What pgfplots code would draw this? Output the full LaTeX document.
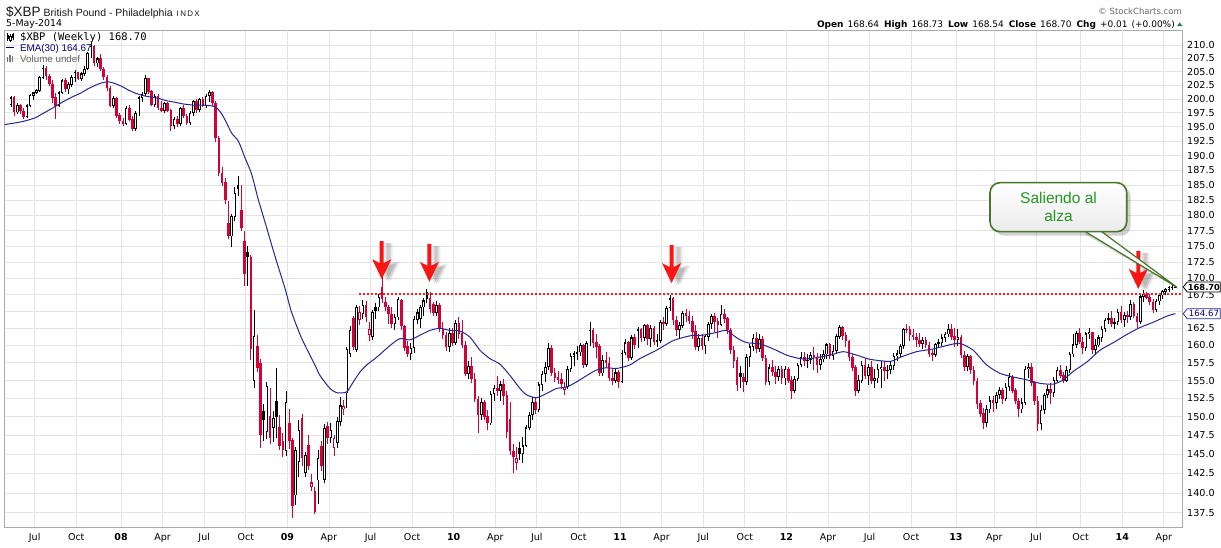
\documentclass[border=0pt]{standalone}
\usepackage{fontspec}
\setmainfont{Liberation Sans}
\newfontfamily\dv{DejaVu Sans}
\newfontfamily\dvm{DejaVu Sans Mono}
\usepackage{pgfplots}
\pgfplotsset{compat=1.18}
\usepackage{pgfplotstable}
\definecolor{cred}{RGB}{214,0,55}
\definecolor{dotred}{RGB}{255,30,30}
\definecolor{arrred}{RGB}{250,20,20}
\definecolor{ema}{RGB}{38,38,156}
\definecolor{gridc}{RGB}{228,228,228}
\definecolor{gridy}{RGB}{185,185,185}
\definecolor{framec}{RGB}{170,170,170}
\definecolor{cgreen}{RGB}{34,150,34}
\definecolor{cborder}{RGB}{74,118,40}
\definecolor{navy}{RGB}{0,0,128}
\definecolor{triup}{RGB}{30,130,60}
\definecolor{boxblue}{RGB}{40,40,170}

% k = week index (0 = week of 14-May-2007, 364 = week of 5-May-2014)
% f: 0 black hollow, 1 black filled, 2 red filled, 3 red hollow
\pgfplotstableread{
k o h l c f
0 199.0 200.6 198.6 200.2 0
1 200.2 200.5 197.0 197.6 2
2 197.6 199.3 197.2 198.9 0
3 198.9 199.1 197.3 197.8 2
4 197.8 198.3 196.4 196.8 2
5 196.8 199.1 196.5 198.8 0
6 198.8 200.9 198.5 200.6 0
7 200.6 201.3 199.9 201.1 0
8 201.1 201.8 200.8 201.5 0
9 201.5 204.1 201.2 203.9 0
10 203.9 206.2 203.6 205.7 0
11 205.7 206.0 203.5 204.1 2
12 204.1 204.6 202.4 202.7 2
13 202.7 203.5 199.2 200.2 2
14 200.2 201.0 196.4 198.8 2
15 198.8 201.4 198.5 201.1 0
16 201.1 203.6 200.8 203.3 0
17 203.3 203.8 201.3 201.7 2
18 201.7 203.0 200.8 202.6 0
19 202.6 204.3 202.2 203.9 0
20 203.9 205.2 203.1 204.8 0
21 204.8 205.0 203.4 203.7 2
22 203.7 205.0 203.3 204.6 0
23 204.6 206.0 204.1 205.5 0
24 205.5 208.7 205.2 208.4 0
25 208.4 210.6 207.6 209.8 0
26 209.8 210.0 206.0 206.5 2
27 206.5 207.7 205.8 207.4 0
28 207.4 208.2 205.1 205.4 2
29 205.4 205.9 203.5 204.0 2
30 204.0 204.4 201.5 201.9 2
31 201.9 202.3 198.5 198.8 2
32 198.8 200.5 198.3 200.1 0
33 200.1 200.4 196.6 197.0 2
34 197.0 197.5 195.6 196.0 2
35 196.0 196.5 195.2 195.6 2
36 195.6 198.8 195.3 198.4 0
37 198.4 199.0 196.0 196.3 2
38 196.3 197.0 194.2 194.6 2
39 194.6 197.8 194.3 197.4 0
40 197.4 200.6 197.0 200.2 0
41 200.2 201.3 199.4 200.9 0
42 200.9 204.3 200.5 203.7 0
43 203.7 203.9 200.8 201.3 2
44 201.3 201.6 198.7 199.0 2
45 199.0 200.8 198.6 200.4 0
46 200.4 200.9 198.0 198.4 2
47 198.4 199.6 197.6 197.9 2
48 197.9 199.5 197.4 199.2 0
49 199.2 199.5 197.6 197.9 2
50 197.9 198.2 194.3 195.1 2
51 195.1 196.8 194.6 196.4 0
52 196.4 197.0 195.0 195.5 2
53 195.5 198.6 195.2 198.3 0
54 198.3 199.0 196.6 196.9 2
55 196.9 197.3 195.4 195.7 2
56 195.7 197.9 195.3 197.5 0
57 197.5 199.9 196.9 199.6 0
58 199.6 200.0 197.5 198.0 2
59 198.0 200.2 197.6 199.9 0
60 199.9 200.3 198.5 198.8 2
61 198.8 200.9 198.4 200.5 0
62 200.5 201.6 199.5 201.2 0
63 201.2 201.5 198.8 199.2 2
64 199.2 199.6 192.3 193.0 2
65 193.0 193.4 186.5 187.0 2
66 187.0 188.0 184.8 185.4 2
67 185.4 186.2 181.8 182.5 2
68 178.7 182.3 176.2 176.6 2
69 176.6 180.2 174.9 179.8 0
70 179.8 184.6 179.0 183.6 0
71 184.9 186.6 183.2 184.4 1
72 180.8 185.0 177.4 177.9 2
73 175.8 177.4 168.8 170.7 2
74 174.0 175.0 168.9 173.3 1
75 173.3 173.6 157.9 159.5 2
76 155.0 165.2 153.9 161.3 0
77 159.8 161.5 156.2 156.7 2
78 157.4 158.0 145.8 147.5 2
79 150.8 151.8 146.8 149.5 1
80 148.0 154.8 147.0 154.2 0
81 150.1 154.0 146.3 147.1 2
82 148.5 150.8 146.6 149.8 0
83 152.1 156.7 147.1 149.9 1
84 148.5 150.2 145.6 146.1 2
85 146.7 147.8 144.6 145.5 2
86 145.4 153.6 144.8 152.0 0
87 149.1 151.0 145.7 146.8 2
88 146.8 147.2 136.9 138.3 2
89 139.7 146.0 138.5 145.5 0
90 144.0 149.5 142.0 148.2 0
91 149.8 150.3 143.5 144.5 2
92 142.6 145.3 142.0 144.9 0
93 146.2 147.5 143.0 143.4 2
94 140.8 142.4 140.2 141.3 3
95 140.2 140.8 137.3 137.6 2
96 141.6 145.5 138.6 144.5 0
97 146.0 146.8 142.8 143.4 2
98 141.7 149.0 141.2 148.4 0
99 148.7 149.3 146.4 147.1 2
100 147.1 149.2 146.5 148.2 0
101 145.8 147.5 144.7 147.1 3
102 146.5 150.0 145.8 149.4 0
103 149.3 152.7 148.7 151.5 0
104 151.0 152.3 150.2 151.4 3
105 153.2 159.8 151.2 159.5 0
106 158.8 162.8 158.3 162.2 0
107 163.9 164.3 159.4 159.8 2
108 159.3 166.0 159.0 165.6 0
109 163.7 165.8 163.0 164.9 3
110 164.6 166.7 163.9 165.9 0
111 165.9 166.5 163.5 164.2 2
112 161.5 163.4 160.7 162.4 3
113 161.2 165.2 160.8 164.9 0
114 165.6 166.2 163.9 165.0 1
115 165.6 167.6 165.0 167.1 0
116 168.7 170.4 166.3 166.9 2
117 166.4 167.2 165.0 165.6 2
118 165.6 166.0 163.1 164.6 2
119 164.6 165.6 162.6 163.1 2
120 163.1 164.6 162.2 164.1 0
121 164.1 167.2 163.8 166.8 0
122 166.6 166.9 162.3 162.8 2
123 162.8 163.0 159.2 159.6 2
124 159.9 160.6 158.4 158.8 2
125 158.8 160.3 157.9 159.6 0
126 159.6 164.3 158.9 163.8 0
127 163.8 165.4 163.2 164.8 0
128 163.9 166.0 162.6 165.6 0
129 165.6 167.0 164.4 166.6 0
130 167.9 168.4 166.2 166.9 1
131 166.9 167.9 164.8 165.3 2
132 166.0 166.4 164.3 164.8 2
133 164.8 166.6 164.4 165.9 0
134 165.9 166.2 161.9 162.4 2
135 162.4 163.4 161.0 161.5 2
136 161.5 162.0 159.2 159.8 2
137 159.8 162.6 159.0 161.8 0
138 161.8 162.5 159.9 160.4 2
139 160.4 163.8 160.1 163.2 0
140 163.2 164.2 161.0 161.7 2
141 161.7 163.7 159.6 160.0 2
142 160.0 160.6 155.6 155.9 2
143 155.9 157.8 155.2 157.0 0
144 157.0 158.3 154.6 155.2 2
145 155.2 156.0 152.0 152.4 2
146 152.4 152.8 147.8 150.2 2
147 150.2 152.6 149.6 152.0 0
148 152.0 152.3 149.6 150.0 2
149 150.0 150.9 148.2 149.1 2
150 149.1 153.6 148.9 153.1 0
151 153.1 154.3 152.1 153.9 0
152 153.9 155.6 152.9 153.6 2
153 153.6 155.0 152.2 154.4 0
154 154.4 155.2 151.6 152.9 2
155 152.9 153.6 147.2 148.0 2
156 149.6 152.0 144.9 145.4 2
157 145.4 146.3 142.5 144.6 2
158 143.9 145.9 143.0 144.5 3
159 145.8 146.6 144.2 145.0 1
160 145.0 147.3 143.8 146.1 0
161 146.1 148.9 145.9 148.5 0
162 148.5 150.6 148.2 150.2 0
163 150.2 152.7 149.6 152.0 0
164 152.0 152.5 150.3 150.9 2
165 150.9 154.8 150.6 154.4 0
166 154.4 156.4 153.6 155.9 0
167 155.9 157.6 154.8 156.9 0
168 156.9 160.4 156.5 159.6 0
169 159.6 160.0 155.6 156.0 2
170 156.0 156.8 154.8 155.4 2
171 155.4 156.3 154.5 155.1 2
172 155.1 156.0 153.8 154.5 2
173 153.7 154.8 153.0 154.1 3
174 154.1 157.0 153.8 156.6 0
175 156.6 158.9 156.2 158.4 0
176 158.4 159.2 157.0 158.8 0
177 158.8 159.9 157.9 159.0 0
178 159.0 160.4 158.5 160.0 0
179 160.0 160.2 156.8 157.2 2
180 157.2 160.7 156.9 160.3 0
181 160.3 163.4 159.9 162.2 0
182 162.2 162.6 159.6 160.4 2
183 160.4 161.6 158.2 159.8 2
184 159.8 160.2 155.6 156.0 2
185 156.0 158.6 155.6 157.9 0
186 157.9 159.0 156.8 157.5 2
187 157.5 158.4 154.9 155.3 2
188 155.3 156.7 154.3 154.9 2
189 154.9 156.6 154.6 156.1 0
190 156.1 156.5 153.9 154.8 2
191 154.8 159.3 154.6 158.9 0
192 158.9 160.9 158.6 160.4 0
193 160.4 160.7 157.7 158.2 2
194 158.2 161.5 157.9 161.1 0
195 161.1 161.7 159.5 160.0 2
196 160.0 162.7 159.6 162.3 0
197 162.3 162.5 160.5 161.1 2
198 161.1 163.1 160.7 162.9 0
199 162.9 163.1 160.0 160.9 2
200 160.9 163.0 159.7 162.5 0
201 162.5 162.9 160.0 160.5 2
202 160.5 161.6 159.8 160.7 0
203 160.7 163.7 160.3 163.4 0
204 163.4 164.2 162.2 163.2 2
205 163.2 165.8 162.9 165.5 0
206 165.5 167.5 165.1 166.9 0
207 166.9 167.2 163.0 163.7 2
208 163.7 164.4 161.4 162.3 2
209 162.3 163.5 161.0 162.9 0
210 162.9 165.1 162.6 164.7 0
211 164.7 165.4 163.4 164.3 2
212 164.3 165.0 163.1 163.6 2
213 163.6 164.3 161.0 162.0 2
214 162.0 163.0 159.4 159.8 2
215 159.8 161.6 159.2 161.0 0
216 161.0 161.7 159.4 159.9 2
217 159.9 161.6 158.8 161.3 0
218 161.3 163.5 160.6 163.1 0
219 163.1 164.6 162.4 164.3 0
220 164.3 164.8 161.9 163.5 2
221 163.5 164.0 161.1 163.0 2
222 163.0 165.9 162.8 164.6 0
223 164.6 165.4 163.3 163.9 2
224 163.9 164.2 161.6 162.2 2
225 162.2 162.6 158.7 159.3 2
226 159.3 159.9 156.8 157.8 2
227 157.8 158.4 153.6 154.3 2
228 156.0 157.0 154.0 155.5 1
229 155.5 156.0 153.4 154.8 2
230 154.8 158.8 154.4 158.3 0
231 158.3 160.2 156.9 159.8 0
232 159.8 161.7 159.2 161.0 0
233 161.0 161.9 158.9 159.5 2
234 159.5 161.6 159.1 160.9 0
235 160.9 161.4 157.8 158.2 2
236 158.2 158.6 154.4 154.8 2
237 154.8 157.3 154.3 156.8 0
238 156.8 157.9 155.7 156.2 2
239 156.2 157.0 154.5 155.5 2
240 155.5 157.1 154.9 156.6 0
241 156.6 157.0 154.5 155.3 2
242 155.3 157.0 154.4 156.6 0
243 156.6 156.9 154.6 155.0 2
244 155.0 155.6 152.4 153.6 2
245 153.6 155.6 153.2 155.2 0
246 155.2 157.5 154.9 157.2 0
247 157.2 159.1 156.9 158.3 0
248 158.3 159.0 157.1 157.7 2
249 157.7 158.7 156.8 157.9 0
250 157.9 159.0 157.3 158.6 0
251 158.6 159.7 156.5 158.3 2
252 158.3 158.9 156.0 157.2 2
253 157.2 158.7 156.5 158.0 0
254 158.0 159.4 157.6 158.7 0
255 158.7 160.3 158.1 160.1 0
256 160.1 160.4 158.0 158.5 2
257 158.5 160.1 157.9 159.2 0
258 159.2 161.7 158.9 161.3 0
259 161.3 163.0 160.9 162.6 0
260 162.6 162.9 160.8 161.4 2
261 161.4 162.0 159.8 160.6 2
262 160.6 160.8 157.8 158.3 2
263 158.3 158.8 156.3 156.8 2
264 156.8 157.2 152.8 153.6 2
265 153.6 155.8 153.2 155.0 0
266 155.0 157.7 154.6 157.1 0
267 157.1 158.0 155.2 155.7 2
268 155.7 157.3 154.4 156.9 0
269 156.9 157.7 154.5 155.0 2
270 155.0 156.6 153.9 155.3 0
271 155.3 157.3 154.7 156.6 0
272 156.6 157.8 153.9 156.9 0
273 156.9 157.8 154.9 156.3 2
274 156.3 157.2 155.2 156.5 0
275 156.5 157.7 155.9 157.1 0
276 157.1 158.9 156.5 158.5 0
277 158.5 159.3 157.7 158.8 0
278 158.8 160.2 158.3 159.9 0
279 159.9 162.6 159.5 162.4 0
280 162.4 163.1 161.8 162.3 2
281 162.3 162.9 160.7 161.5 2
282 161.5 162.4 160.8 161.2 2
283 161.2 161.8 159.7 160.8 2
284 160.8 161.8 159.8 160.2 2
285 160.2 161.3 159.5 160.8 0
286 160.8 161.3 159.6 160.0 2
287 160.0 160.5 158.3 158.8 2
288 158.8 159.4 157.8 158.6 2
289 158.6 160.4 158.4 160.2 0
290 160.2 161.0 159.7 160.4 0
291 160.4 161.7 159.9 161.1 0
292 161.1 162.0 160.5 161.6 0
293 161.6 163.1 161.2 162.4 0
294 162.4 163.1 160.8 161.3 2
295 161.3 162.5 159.8 160.8 2
296 160.8 162.4 159.9 161.2 0
297 161.2 161.5 158.2 158.6 2
298 158.6 159.2 156.3 156.9 2
299 156.9 158.8 156.3 158.4 0
300 158.4 158.6 155.9 156.5 2
301 156.5 157.1 154.4 154.9 2
302 154.9 155.3 151.1 151.8 2
303 151.8 152.3 149.9 150.4 2
304 150.4 151.2 148.3 149.2 2
305 149.2 151.6 148.6 151.0 0
306 151.0 152.8 150.5 152.2 0
307 152.2 152.8 150.6 151.9 2
308 151.9 153.4 151.0 153.0 0
309 153.0 154.1 152.4 153.6 0
310 153.6 154.0 151.8 152.4 2
311 152.4 154.6 152.1 154.1 0
312 154.1 156.0 153.6 155.5 0
313 155.5 155.8 153.3 153.6 2
314 153.6 154.0 151.7 152.1 2
315 152.1 152.6 150.0 151.0 2
316 151.0 152.6 150.5 151.9 0
317 151.9 157.0 151.6 156.6 0
318 156.6 157.5 155.4 156.9 0
319 156.9 157.5 154.2 154.7 2
320 154.7 155.0 151.6 152.1 2
321 152.1 152.9 148.1 149.0 2
322 149.0 151.6 148.2 150.9 0
323 150.9 153.2 150.3 153.0 0
324 153.0 154.4 152.6 153.7 0
325 153.7 154.6 151.7 153.3 2
326 153.3 155.5 152.7 155.0 0
327 155.0 156.9 154.8 156.5 0
328 156.5 157.2 155.3 155.7 2
329 155.7 156.2 154.6 155.0 2
330 155.0 157.1 154.8 156.5 0
331 156.5 159.1 156.0 158.7 0
332 158.7 161.6 158.3 160.1 0
333 160.1 162.1 159.6 161.8 0
334 161.8 162.6 160.2 160.5 2
335 160.5 161.2 158.8 159.6 2
336 159.6 162.0 159.2 161.7 0
337 161.6 162.6 161.0 161.9 0
338 161.9 162.0 158.8 159.3 2
339 159.3 161.0 158.6 160.0 0
340 160.0 161.5 159.7 161.1 0
341 161.1 162.8 160.5 162.4 0
342 162.4 164.0 162.0 163.7 0
343 163.7 164.8 163.2 163.9 0
344 163.9 165.0 162.7 163.2 2
345 163.2 164.0 162.4 163.4 0
346 163.4 165.3 163.0 164.9 0
347 164.9 165.8 163.3 163.8 2
348 163.8 164.9 162.7 164.4 0
349 164.4 165.0 163.3 164.2 2
350 164.2 166.7 163.8 166.1 0
351 166.1 166.4 164.0 164.3 2
352 164.3 164.8 162.5 163.4 2
353 163.4 167.4 163.1 167.2 0
354 167.2 168.2 166.4 167.6 0
355 167.6 168.0 166.8 167.1 2
356 167.1 167.6 166.0 166.4 2
357 166.4 166.8 164.8 165.2 2
358 165.2 166.8 164.9 166.5 0
359 166.5 167.8 166.0 167.4 0
360 167.4 168.3 166.9 168.0 0
361 168.0 168.6 167.5 168.3 0
362 168.3 168.8 167.9 168.6 0
363 168.6 169.1 168.3 168.66 0
364 168.64 168.73 168.54 168.70 0
}\xbp

\pgfplotsset{candle/.style={only marks, mark=*, mark size=0pt, mark options={draw=none, fill=none}}}

\begin{document}
\begin{tikzpicture}[x=1pt,y=1pt]
\path[use as bounding box, fill=white] (0,0) rectangle (1221,547);
\begin{axis}[
  at={(4.5pt,20pt)}, anchor=south west,
  scale only axis, width=1178.2pt, height=497pt,
  xmin=-2.03, xmax=366.3,
  ymode=log, ymin=135.76, ymax=212.87,
  clip=false,
  axis line style={framec, line width=0.8pt},
  grid=major, major grid style={gridc, line width=0.8pt},
  tick style={draw=none},
  ytick={137.5,140,142.5,145,147.5,150,152.5,155,157.5,160,162.5,165,167.5,170,172.5,175,177.5,180,182.5,185,187.5,190,192.5,195,197.5,200,202.5,205,207.5,210},
  yticklabels={137.5,140.0,142.5,145.0,147.5,150.0,152.5,155.0,157.5,160.0,162.5,{},167.5,170.0,172.5,175.0,177.5,180.0,182.5,185.0,187.5,190.0,192.5,195.0,197.5,200.0,202.5,205.0,207.5,210.0},
  yticklabel pos=right,
  yticklabel style={anchor=west, inner sep=0pt, xshift=4.3pt, font=\dv\fontsize{9.6}{10}\selectfont},
  xtick={7.4,20.4,47.4,60.4,73.4,99.4,112.4,125.4,151.4,164.4,177.4,203.4,216.4,229.4,255.4,268.4,281.4,307.4,320.4,334.4,360.4},
  xticklabels={Jul,Oct,Apr,Jul,Oct,Apr,Jul,Oct,Apr,Jul,Oct,Apr,Jul,Oct,Apr,Jul,Oct,Apr,Jul,Oct,Apr},
  xticklabel style={anchor=base, inner sep=0pt, yshift=-13.5pt, font=\dv\fontsize{9.5}{10}\selectfont},
  extra x ticks={34.4,86.4,138.4,190.4,242.4,295.4,347.4},
  extra x tick labels={08,09,10,11,12,13,14},
  extra x tick style={grid style={gridy, line width=0.8pt}, xticklabel style={font=\dv\bfseries\fontsize{9.5}{10}\selectfont}},
]
% wicks
\addplot[candle, restrict expr to domain={\thisrow{f}}{-0.5:1.5},
  error bars/.cd, y dir=plus, y explicit, error mark=none,
  error bar style={black, line width=0.9pt}]
  table[x=k, y=l, y error expr=\thisrow{h}-\thisrow{l}] {\xbp};
\addplot[candle, restrict expr to domain={\thisrow{f}}{1.5:3.5},
  error bars/.cd, y dir=plus, y explicit, error mark=none,
  error bar style={cred, line width=0.9pt}]
  table[x=k, y=l, y error expr=\thisrow{h}-\thisrow{l}] {\xbp};
% bodies
\addplot[candle, restrict expr to domain={\thisrow{f}}{-0.5:1.5},
  error bars/.cd, y dir=plus, y explicit, error mark=none,
  error bar style={black, line width=2.6pt}]
  table[x=k, y expr={min(\thisrow{o},\thisrow{c})}, y error expr={abs(\thisrow{c}-\thisrow{o})+0.05}] {\xbp};
\addplot[candle, restrict expr to domain={\thisrow{f}}{1.5:3.5},
  error bars/.cd, y dir=plus, y explicit, error mark=none,
  error bar style={cred, line width=2.6pt}]
  table[x=k, y expr={min(\thisrow{o},\thisrow{c})}, y error expr={abs(\thisrow{c}-\thisrow{o})+0.05}] {\xbp};
% hollow interiors
\addplot[candle, restrict expr to domain={abs(\thisrow{f}-1.5)}{1.4:1.6},
  error bars/.cd, y dir=plus, y explicit, error mark=none,
  error bar style={white, line width=1.0pt}]
  table[x=k, y expr={min(\thisrow{o},\thisrow{c})*1.00075}, y error expr={max(max(\thisrow{o},\thisrow{c})/1.00075-min(\thisrow{o},\thisrow{c})*1.00075,0)}] {\xbp};
% EMA(30)
\addplot[ema, line width=1pt, smooth, tension=0.4] coordinates {
(-2,195.4) (0,195.6) (4,196.0) (7.5,196.6) (10,197.4) (13.75,198.6) (16,199.4) (19,200.3) (22,201.1) (24,201.8) (26.5,202.5) (28.3,202.9) (30.4,203.1) (32.5,202.8) (34.5,202.3) (36.7,201.6) (39,201.0) (41.9,200.5) (44,200.3) (46,200.1) (48.5,199.7) (51.25,199.4) (54,199.1) (57.5,198.9) (60.6,198.9) (63.8,198.6) (65.5,197.6) (66.9,196.3) (69,193.9) (71.1,192.5) (73.1,189.7) (75.2,186.9) (77.3,182.6) (79.4,178.9) (82.5,173.5) (85.7,168.4) (87.7,164.9) (90.9,161.0) (95,157.2) (96.6,155.7) (99.7,153.9) (101.8,153.3) (104.9,153.4) (107,154.8) (109.1,156.2) (111.2,157.2) (114.3,158.3) (118.5,160.0) (121.6,161.0) (124.7,160.8) (127.9,161.5) (131,162.2) (134.1,162.5) (137.2,162.2) (140.4,162.1) (143.5,161.2) (146.6,159.3) (149.7,158.1) (152.9,157.3) (156,155.7) (159.1,153.9) (161.2,153.0) (164.3,152.6) (167.5,153.2) (170.6,153.9) (173.7,154.1) (176.8,154.8) (180,155.7) (183.1,156.5) (186.2,156.8) (189.3,156.7) (193.5,157.2) (196.6,158.1) (201.8,159.3) (207,160.7) (212.3,161.4) (216.4,161.5) (220.6,161.9) (223.7,162.2) (226.9,161.1) (230,160.4) (234.2,160.2) (238.3,159.5) (242.5,158.6) (246.6,158.1) (249.8,158.1) (256,158.6) (260.2,159.1) (264.4,158.6) (268.5,158.0) (274.8,157.7) (278,158.3) (283.1,159.1) (288.3,159.5) (293.5,160.1) (296.7,160.3) (300.8,159.3) (305,157.2) (309.2,156.0) (313.3,155.5) (317.5,155.1) (321.7,154.6) (325.8,154.5) (329,155.1) (332.1,156.3) (336.3,157.6) (340.4,159.3) (344.6,160.4) (348.8,161.6) (352.9,162.6) (357.1,163.4) (361.3,164.3) (364,164.67)
};
% resistance line
\addplot[dotred, line width=2pt, dash pattern=on 2pt off 2pt] coordinates {(108.9,167.7) (366.3,167.7)};
\coordinate (a1) at (axis cs:115.9,169.9);
\coordinate (a2) at (axis cs:130.8,169.5);
\coordinate (a3) at (axis cs:206.5,169.3);
\coordinate (a4) at (axis cs:352.4,168.4);
\coordinate (p1) at (axis cs:366.3,168.70);
\coordinate (p2) at (axis cs:366.3,164.67);
\end{axis}

% red arrows with soft shadow
\foreach \a in {a1,a2,a3,a4}{
  \foreach \s/\op in {5/0.10,7/0.12,9/0.08}{
    \fill[black, opacity=\op, shift={(\a)}, xshift=\s pt, yshift=-2pt] (0pt,0pt) -- (-9.5pt,20pt) -- (-2pt,16pt) -- (-2pt,38pt) -- (2pt,38pt) -- (2pt,16pt) -- (9.5pt,20pt) -- cycle;
  }
  \fill[arrred, shift={(\a)}] (0pt,0pt) -- (-9.5pt,20pt) -- (-2pt,16pt) -- (-2pt,38pt) -- (2pt,38pt) -- (2pt,16pt) -- (9.5pt,20pt) -- cycle;
}

% price boxes on the right
\begin{scope}[shift={(p1)}]
\draw[black, line width=0.8pt, fill=white] (0.5pt,0pt) -- (4.5pt,5pt) -- (37.6pt,5pt) -- (37.6pt,-5pt) -- (4.5pt,-5pt) -- cycle;
\node[inner sep=0pt, font=\dv\bfseries\fontsize{8.3}{9}\selectfont] at (21.2pt,0pt) {168.70};
\end{scope}
\begin{scope}[shift={(p2)}]
\draw[boxblue, line width=0.8pt, fill=white] (0.5pt,0pt) -- (4.5pt,5pt) -- (37.6pt,5pt) -- (37.6pt,-5pt) -- (4.5pt,-5pt) -- cycle;
\node[inner sep=0pt, text=navy, font=\dv\fontsize{8.6}{9}\selectfont] at (21.2pt,0pt) {164.67};
\end{scope}

% callout
\fill[black, opacity=0.18] (1085,313) -- (1181,256.7) -- (1102,313) -- cycle;
\fill[black, opacity=0.18, rounded corners=10pt] (994,311.3) rectangle (1130.7,360.3);
\filldraw[fill=white, draw=cborder, line width=1.2pt] (1081,318) -- (1177,259.7) -- (1098,318) -- cycle;
\shade[top color=white, bottom color=black!8, rounded corners=10pt] (990,315.3) rectangle (1126.7,364.3);
\draw[cborder, line width=1.6pt, rounded corners=10pt] (990,315.3) rectangle (1126.7,364.3);
\node[align=center, text=cgreen, font=\fontsize{15.5}{17.5}\selectfont] at (1058.5,340) {Saliendo al\\alza};

% header
\node[anchor=base west, inner sep=0pt, text=black!90] at (6,530.3) {{\fontsize{13.5}{14}\selectfont\$XBP}\hspace{3pt}{\fontsize{10.5}{12}\selectfont British Pound - Philadelphia}\hspace{4pt}{\fontsize{8}{9}\selectfont I\,N\,D\,X}};
\node[anchor=base west, inner sep=0pt, font=\dv\fontsize{9.4}{10}\selectfont] at (6,520) {5-May-2014};
\node[anchor=base east, inner sep=0pt, text=black!60, font=\dv\fontsize{8.5}{9}\selectfont] at (1182,532) {\textcopyright\ StockCharts.com};
\node[anchor=base east, inner sep=0pt, font=\dv\fontsize{9}{10}\selectfont] at (1175,519) {\textbf{Open}\hspace{4pt}168.64\hspace{5pt}\textbf{High}\hspace{4pt}168.73\hspace{5pt}\textbf{Low}\hspace{4pt}168.54\hspace{5pt}\textbf{Close}\hspace{4pt}168.70\hspace{5pt}\textbf{Chg}\hspace{4pt}+0.01\hspace{4pt}(+0.00\%)};
\fill[triup] (1177,520.8) -- (1182.5,520.8) -- (1179.75,524.6) -- cycle;

% legend inside plot
\draw[black, line width=0.6pt] (7.5,506) -- (7.5,513.5);
\fill[black] (6.5,507.5) rectangle (8.5,512);
\draw[black, line width=0.6pt] (10.5,505) -- (10.5,512.5);
\draw[black, line width=0.6pt, fill=white] (9.6,506.5) rectangle (11.4,511);
\draw[black, line width=0.6pt] (13,507) -- (13,514);
\fill[black] (12.2,508.5) rectangle (13.8,512.5);
\node[anchor=base west, inner sep=0pt, font=\dvm\fontsize{10.5}{11}\selectfont] at (20,506) {\$XBP (Weekly) 168.70};
\draw[navy, line width=1.8pt] (6,499.5) -- (14,499.5);
\node[anchor=base west, inner sep=0pt, text=navy, font=\fontsize{9.8}{11}\selectfont] at (20,495.5) {EMA(30) 164.67};
\fill[black!55] (6.5,484.5) rectangle (8,489.5);
\fill[black!55] (9,484.5) rectangle (10.5,492);
\fill[black!55] (11.5,484.5) rectangle (13,490.5);
\node[anchor=base west, inner sep=0pt, text=black!60, font=\fontsize{9.8}{11}\selectfont] at (20,484.5) {Volume undef};
\end{tikzpicture}
\end{document}
